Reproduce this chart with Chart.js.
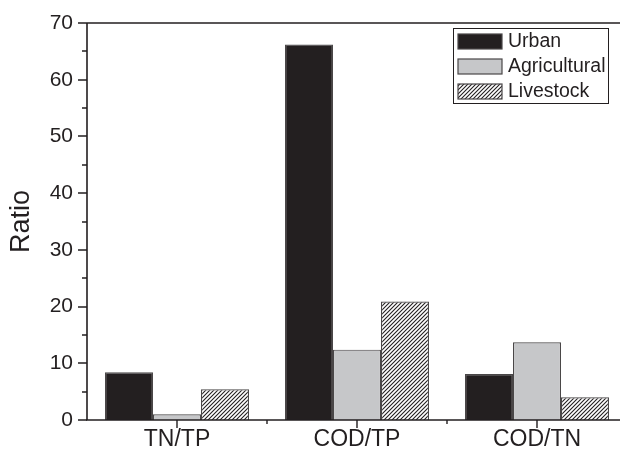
<!DOCTYPE html>
<html>
<head>
<meta charset="utf-8">
<script src="https://cdn.jsdelivr.net/npm/chart.js@4/dist/chart.umd.min.js"></script>
<style>
html,body{margin:0;padding:0;background:#fff;overflow:hidden;width:620px;height:452px;}
#wrap{width:640px;height:452px;}
</style>
</head>
<body>
<div id="wrap"><canvas id="c" width="640" height="452"></canvas></div>
<script>
const categories = ['TN/TP', 'COD/TP', 'COD/TN'];
const seriesNames = ['Urban', 'Agricultural', 'Livestock'];
const urban = [8.4, 66.2, 8.1];
const agricultural = [1.0, 12.4, 13.7];
const livestock = [5.4, 20.9, 4.0];
const yTicks = [0, 10, 20, 30, 40, 50, 60, 70];
const yMinorTicks = [5, 15, 25, 35, 45, 55, 65];

const FONT = "'Liberation Sans', Arial, sans-serif";
const AXIS = '#231f20';

function hatch() {
  const t = document.createElement('canvas');
  t.width = 4; t.height = 4;
  const g = t.getContext('2d');
  g.fillStyle = '#fff'; g.fillRect(0,0,4,4);
  g.strokeStyle = '#231f20'; g.lineWidth = 1.1;
  g.beginPath();
  g.moveTo(-1,5); g.lineTo(5,-1);
  g.moveTo(-1,1); g.lineTo(1,-1);
  g.moveTo(3,5); g.lineTo(5,3);
  g.stroke();
  return document.getElementById('c').getContext('2d').createPattern(t, 'repeat');
}
const hatchPattern = hatch();

const fills = ['#231f20', '#c6c7c9', hatchPattern];
const borders = ['#4a4748', '#4a4748', '#4a4748'];

const decor = {
  id: 'decor',
  afterDraw(chart) {
    const ctx = chart.ctx;
    const a = chart.chartArea;
    const y = chart.scales.y, x = chart.scales.x;
    ctx.save();
    ctx.strokeStyle = AXIS;
    ctx.lineWidth = 1.6;
    ctx.beginPath();
    ctx.moveTo(a.left, a.bottom); ctx.lineTo(a.left, a.top);
    ctx.moveTo(a.left, a.top); ctx.lineTo(a.right, a.top);
    ctx.moveTo(a.left - 1, a.bottom); ctx.lineTo(a.right, a.bottom);
    ctx.stroke();
    ctx.lineWidth = 1.4;
    ctx.beginPath();
    yTicks.forEach(v => { const p = Math.round(y.getPixelForValue(v)); ctx.moveTo(a.left, p); ctx.lineTo(a.left - 9, p); });
    yMinorTicks.forEach(v => { const p = Math.round(y.getPixelForValue(v)); ctx.moveTo(a.left, p); ctx.lineTo(a.left - 5, p); });
    categories.forEach((c, i) => {
      const p = Math.round(x.getPixelForValue(i));
      ctx.moveTo(p, a.bottom); ctx.lineTo(p, a.bottom + 8);
      if (i < categories.length - 1) {
        const m = Math.round((x.getPixelForValue(i) + x.getPixelForValue(i + 1)) / 2);
        ctx.moveTo(m, a.bottom); ctx.lineTo(m, a.bottom + 4);
      }
    });
    ctx.stroke();
    const lx = a.right - 174, ly = a.top + 5;
    ctx.lineWidth = 1;
    ctx.strokeStyle = '#231f20';
    ctx.fillStyle = '#fff';
    ctx.fillRect(lx, ly, 155, 75);
    ctx.strokeRect(lx + 0.5, ly + 0.5, 155, 75);
    chart.data.datasets.forEach((ds, i) => {
      const sy = ly + 6 + i * 25;
      ctx.fillStyle = ds.backgroundColor;
      ctx.fillRect(lx + 5, sy, 44, 15);
      ctx.strokeStyle = '#4a4748';
      ctx.lineWidth = 1.2;
      ctx.strokeRect(lx + 5, sy, 44, 15);
      ctx.fillStyle = '#231f20';
      ctx.font = '19.5px ' + FONT;
      ctx.textBaseline = 'middle';
      ctx.textAlign = 'left';
      ctx.fillText(ds.label, lx + 55, sy + 8);
    });
    ctx.restore();
  }
};

new Chart(document.getElementById('c'), {
  type: 'bar',
  data: {
    labels: categories,
    datasets: [
      { label: seriesNames[0], data: urban, backgroundColor: fills[0], borderColor: borders[0], borderWidth: 1.2 },
      { label: seriesNames[1], data: agricultural, backgroundColor: fills[1], borderColor: borders[1], borderWidth: 1.2 },
      { label: seriesNames[2], data: livestock, backgroundColor: fills[2], borderColor: borders[2], borderWidth: 1.2 }
    ]
  },
  options: {
    responsive: false,
    animation: false,
    devicePixelRatio: 1,
    layout: { padding: { left: 0, top: 23, right: 13, bottom: 0 } },
    datasets: { bar: { categoryPercentage: 0.8, barPercentage: 1.0 } },
    plugins: { legend: { display: false }, tooltip: { enabled: false } },
    scales: {
      x: {
        offset: true,
        grid: { display: false, drawTicks: false },
        border: { display: false },
        ticks: { color: '#231f20', font: { family: FONT, size: 23 }, padding: 6, maxRotation: 0 },
        afterFit(s) { s.height = 32; s.paddingLeft = 0; s.paddingRight = 0; }
      },
      y: {
        min: 0, max: 70,
        grid: { display: false, drawTicks: false },
        border: { display: false },
        ticks: { stepSize: 10, color: '#231f20', font: { family: FONT, size: 21 }, padding: 14 },
        title: { display: true, text: 'Ratio', color: '#231f20', font: { family: FONT, size: 27 }, padding: { top: 5, bottom: 0 } },
        afterFit(s) { s.width = 87; s.paddingTop = 0; s.paddingBottom = 0; }
      }
    }
  },
  plugins: [decor]
});
</script>
</body>
</html>
